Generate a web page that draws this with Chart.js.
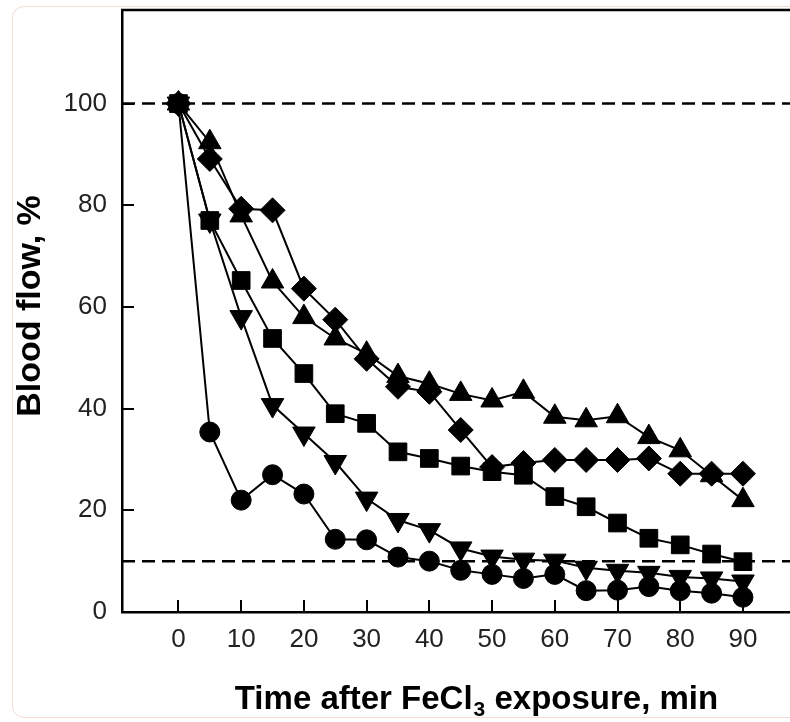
<!DOCTYPE html>
<html>
<head>
<meta charset="utf-8">
<script src="https://cdn.jsdelivr.net/npm/chart.js@4.4.1/dist/chart.umd.min.js"></script>
<style>
  html, body { margin: 0; padding: 0; background: #fff; overflow: hidden; }
  .card { position: absolute; left: 12px; top: 6px; width: 830px; height: 712px;
          border: 1.5px solid #f3dcd2; border-radius: 12px; box-sizing: border-box; }
  #chart { position: absolute; left: 0; top: 0; }
</style>
</head>
<body>
<div class="card"></div>
<canvas id="chart" width="790" height="722"></canvas>
<script>
// minutes after FeCl3 exposure
const times = [0, 5, 10, 15, 20, 25, 30, 35, 40, 45, 50, 55, 60, 65, 70, 75, 80, 85, 90];

// blood flow, % of baseline
const circles   = [100, 35.4, 22.0, 27.0, 23.2, 14.3, 14.2, 10.8, 10.0, 8.2, 7.4, 6.6, 7.4, 4.2, 4.3, 5.0, 4.2, 3.7, 2.9];
const triDown   = [100, 77.0, 58.0, 40.7, 35.1, 29.5, 22.3, 18.1, 16.1, 12.5, 10.9, 10.3, 10.1, 8.7, 8.1, 7.7, 6.9, 6.6, 6.0];
const squares   = [100, 77.0, 65.2, 53.8, 46.9, 39.0, 37.1, 31.5, 30.2, 28.7, 27.6, 26.9, 22.7, 20.7, 17.5, 14.5, 13.2, 11.4, 9.9];
const triUp     = [100, 92.4, 78.0, 65.0, 58.0, 53.8, 50.8, 46.4, 44.9, 42.9, 41.6, 43.3, 38.4, 37.7, 38.5, 34.4, 31.8, 26.9, 22.0];
const diamonds  = [100, 89.1, 79.3, 79.0, 63.6, 57.5, 49.8, 44.3, 43.3, 35.8, 28.5, 29.3, 29.9, 29.9, 29.9, 30.2, 27.2, 27.2, 27.2];

// dashed reference levels
const refLevels = [100, 10];

const xTicks = [0, 10, 20, 30, 40, 50, 60, 70, 80, 90];
const yTicks = [0, 20, 40, 60, 80, 100];

const FONT = 'Liberation Sans, Arial, Helvetica, sans-serif';

function series(vals, style, radius, rotation) {
  return {
    data: vals.map((v, i) => ({x: times[i], y: v})),
    borderColor: '#000',
    backgroundColor: '#000',
    borderWidth: 2,
    pointStyle: style,
    pointRadius: radius,
    pointRotation: rotation || 0,
    pointBorderWidth: 1,
    pointBackgroundColor: '#000',
    pointBorderColor: '#000',
    tension: 0
  };
}

const decorations = {
  id: 'decorations',
  beforeDatasetsDraw(chart) {
    const ctx = chart.ctx, a = chart.chartArea, y = chart.scales.y;
    ctx.save();
    ctx.strokeStyle = '#000';
    ctx.lineWidth = 2.5;
    ctx.setLineDash([13, 7]);
    refLevels.forEach(v => {
      const py = y.getPixelForValue(v);
      ctx.beginPath();
      ctx.moveTo(a.left, py);
      ctx.lineTo(a.right, py);
      ctx.stroke();
    });
    ctx.restore();
  },
  afterDraw(chart) {
    const ctx = chart.ctx, a = chart.chartArea;
    const xs = chart.scales.x, ys = chart.scales.y;
    ctx.save();
    ctx.strokeStyle = '#000';
    // top frame line
    ctx.lineWidth = 2.5;
    ctx.beginPath();
    ctx.moveTo(a.left - 1, a.top);
    ctx.lineTo(a.right, a.top);
    ctx.stroke();
    // inward ticks
    ctx.lineWidth = 2;
    xTicks.forEach(v => {
      const px = Math.round(xs.getPixelForValue(v));
      ctx.beginPath();
      ctx.moveTo(px, a.bottom);
      ctx.lineTo(px, a.bottom - 12);
      ctx.stroke();
    });
    yTicks.forEach(v => {
      const py = Math.round(ys.getPixelForValue(v));
      ctx.beginPath();
      ctx.moveTo(a.left, py);
      ctx.lineTo(a.left + 12, py);
      ctx.stroke();
    });

    // axis titles
    ctx.fillStyle = '#000';
    ctx.textBaseline = 'alphabetic';
    const big = 'bold 33px ' + FONT, small = 'bold 21px ' + FONT;
    const p1 = 'Time after FeCl', p2 = '3', p3 = ' exposure, min';
    ctx.font = big;
    const w1 = ctx.measureText(p1).width, w3 = ctx.measureText(p3).width;
    ctx.font = small;
    const w2 = ctx.measureText(p2).width;
    let x0 = 476 - (w1 + w2 + w3) / 2;
    const base = 709;
    ctx.font = big;
    ctx.fillText(p1, x0, base);
    ctx.font = small;
    ctx.fillText(p2, x0 + w1 + 1, base + 7);
    ctx.font = big;
    ctx.fillText(p3, x0 + w1 + w2 + 1, base);

    ctx.font = 'bold 34px ' + FONT;
    ctx.translate(40, 306);
    ctx.rotate(-Math.PI / 2);
    ctx.textAlign = 'center';
    ctx.fillText('Blood flow, %', 0, 0);
    ctx.restore();
  }
};

const tickFont = {family: FONT, size: 26};

new Chart(document.getElementById('chart'), {
  type: 'line',
  data: {
    datasets: [
      series(triUp, 'triangle', 13),
      series(diamonds, 'rectRot', 12.5),
      series(squares, 'rect', 12.5),
      series(triDown, 'triangle', 13, 180),
      series(circles, 'circle', 10)
    ]
  },
  options: {
    responsive: false,
    animation: false,
    layout: {autoPadding: false, padding: {left: 0, right: 0, top: 10, bottom: 0}},
    plugins: {legend: {display: false}, tooltip: {enabled: false}},
    scales: {
      x: {
        type: 'linear',
        min: -9,
        max: 97.5,
        afterBuildTicks: s => { s.ticks = xTicks.map(v => ({value: v})); },
        afterFit: s => { s.height = 110; s.paddingLeft = 0; s.paddingRight = 0; },
        grid: {display: true, drawOnChartArea: false, drawTicks: false},
        border: {display: true, color: '#000', width: 2.5},
        ticks: {font: tickFont, color: '#222', padding: 12, maxRotation: 0}
      },
      y: {
        min: 0,
        max: 118.4,
        afterBuildTicks: s => { s.ticks = yTicks.map(v => ({value: v})); },
        afterFit: s => { s.width = 122; s.paddingTop = 0; s.paddingBottom = 0; },
        grid: {display: true, drawOnChartArea: false, drawTicks: false},
        border: {display: true, color: '#000', width: 2.5},
        ticks: {font: tickFont, color: '#222', padding: 15}
      }
    }
  },
  plugins: [decorations]
});
</script>
</body>
</html>
